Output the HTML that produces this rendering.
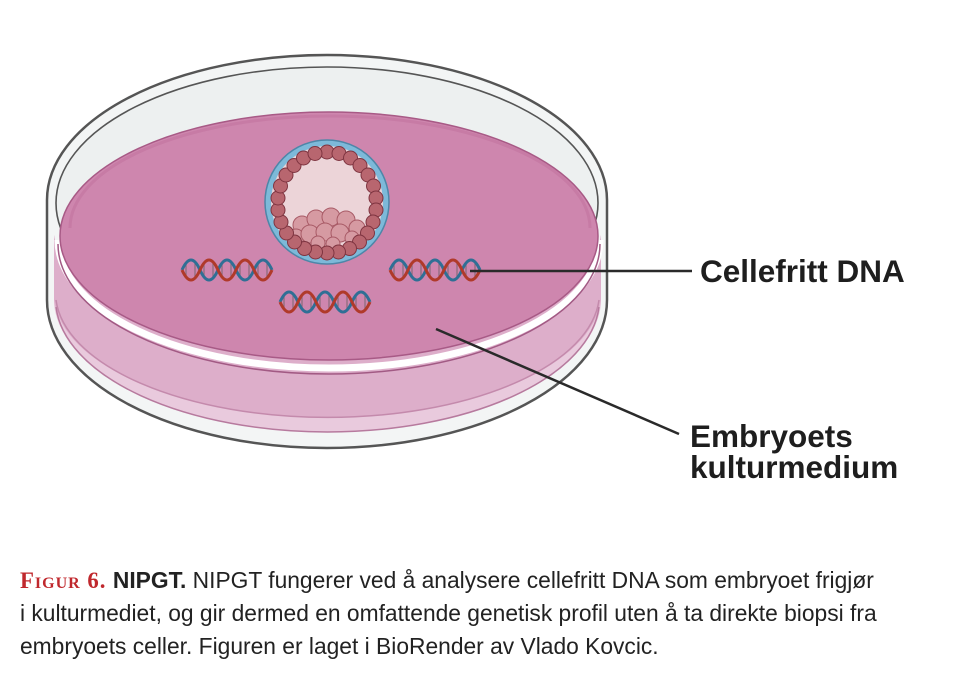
<!DOCTYPE html>
<html><head><meta charset="utf-8"><style>
html,body{margin:0;padding:0;background:#fff;width:960px;height:692px;overflow:hidden}
.cap{position:absolute;left:20px;font-family:"Liberation Sans",sans-serif;font-size:22.8px;color:#222;white-space:nowrap}
.lab{font-family:"Liberation Sans",sans-serif;font-weight:bold;fill:#1e1e1e}
</style></head><body>
<svg width="960" height="692" style="position:absolute;left:0;top:0">
<defs>
<g id="dna">
<g stroke="#8a6a7a" stroke-width="1.2">
<line x1="4" y1="-6" x2="4" y2="6"/><line x1="13" y1="-8" x2="13" y2="8"/><line x1="22" y1="-6" x2="22" y2="6"/><line x1="31" y1="-8" x2="31" y2="8"/><line x1="40" y1="-6" x2="40" y2="6"/><line x1="49" y1="-8" x2="49" y2="8"/><line x1="58" y1="-6" x2="58" y2="6"/><line x1="67" y1="-8" x2="67" y2="8"/><line x1="76" y1="-6" x2="76" y2="6"/><line x1="85" y1="-8" x2="85" y2="8"/>
</g>
<path d="M0,0 q9,-20 18,0 t18,0 t18,0 t18,0 t18,0" fill="none" stroke="#2f6f95" stroke-width="3"/>
<path d="M0,0 q9,20 18,0 t18,0 t18,0 t18,0 t18,0" fill="none" stroke="#b03a2a" stroke-width="3"/>
</g>
</defs>
<path d="M47,200 A280,145 0 0 1 607,200 L607,300 A280,148 0 0 1 47,300 Z" fill="#f3f5f5" stroke="#555" stroke-width="2.5"/>
<ellipse cx="327" cy="203" rx="271" ry="136" fill="#edf0f0" stroke="#555" stroke-width="1.6"/>
<!-- liquid body -->
<path d="M54,235 A274,125 0 0 0 601,235 L601,305 A274,135 0 0 1 54,305 Z" fill="#e9cadd"/>
<path d="M54,235 A274,125 0 0 0 601,235 L601,300 A274,125 0 0 1 54,300 Z" fill="#ddaeca"/>
<path d="M56,300 A272,125 0 0 0 599,300" fill="none" stroke="#c48aac" stroke-width="1.5"/>
<path d="M56,307 A272,133 0 0 0 599,307" fill="none" stroke="#b77a9e" stroke-width="1.5"/>
<!-- rim white band below surface -->
<path d="M58,240 A271,128 0 0 0 600,240" fill="none" stroke="#fff" stroke-width="7"/>
<path d="M58,244 A271,130 0 0 0 600,244" fill="none" stroke="#a25a84" stroke-width="1.5"/>
<!-- surface -->
<ellipse cx="329" cy="236" rx="269" ry="124" fill="#ce86ae" stroke="#a85a86" stroke-width="1.5"/>
<path d="M70,228 A260,112 0 0 1 590,228" fill="none" stroke="#bf6f9c" stroke-width="3" opacity="0.5"/>
<!-- embryo -->
<circle cx="327" cy="202" r="62" fill="#7db9d9" stroke="#4d86a8" stroke-width="1.5"/>
<circle cx="327" cy="202" r="56" fill="#ecd4d8"/>
<g fill="#d69aa2" stroke="#a85a66" stroke-width="1">
<circle cx="302" cy="225" r="9"/><circle cx="316" cy="219" r="9"/><circle cx="331" cy="217" r="9"/><circle cx="346" cy="220" r="9"/><circle cx="357" cy="228" r="8"/><circle cx="296" cy="237" r="8"/><circle cx="310" cy="234" r="9"/><circle cx="325" cy="232" r="9"/><circle cx="340" cy="233" r="9"/><circle cx="352" cy="238" r="7"/><circle cx="318" cy="243" r="7"/><circle cx="333" cy="244" r="7"/>
</g>
<g fill="#b8666f" stroke="#7e3440" stroke-width="1">
<circle cx="327" cy="152" r="7"/><circle cx="339" cy="153.5" r="7"/><circle cx="350.5" cy="158" r="7"/><circle cx="360" cy="165.5" r="7"/><circle cx="368" cy="175" r="7"/><circle cx="373.5" cy="186" r="7"/><circle cx="376" cy="198" r="7"/><circle cx="376" cy="210" r="7"/><circle cx="373" cy="222" r="7"/><circle cx="367.5" cy="233" r="7"/><circle cx="359.5" cy="242" r="7"/><circle cx="349.5" cy="248.5" r="7"/><circle cx="338.5" cy="252" r="7"/><circle cx="327" cy="253" r="7"/><circle cx="315.5" cy="252" r="7"/><circle cx="304.5" cy="248.5" r="7"/><circle cx="294.5" cy="242" r="7"/><circle cx="286.5" cy="233" r="7"/><circle cx="281" cy="222" r="7"/><circle cx="278" cy="210" r="7"/><circle cx="278" cy="198" r="7"/><circle cx="280.5" cy="186" r="7"/><circle cx="286" cy="175" r="7"/><circle cx="294" cy="165.5" r="7"/><circle cx="303.5" cy="158" r="7"/><circle cx="315" cy="153.5" r="7"/>
</g>
<use href="#dna" x="182" y="270"/>
<use href="#dna" x="390" y="270"/>
<use href="#dna" x="280" y="302"/>
<line x1="470" y1="271" x2="692" y2="271" stroke="#2a2a2a" stroke-width="2.5"/>
<line x1="436" y1="329" x2="679" y2="434" stroke="#2a2a2a" stroke-width="2.5"/>
<text class="lab" x="700" y="282" font-size="31.5">Cellefritt DNA</text>
<text class="lab" x="690" y="447" font-size="31.5">Embryoets</text>
<text class="lab" x="690" y="478" font-size="31.5">kulturmedium</text>
</svg>
<div class="cap" style="top:567px"><span style="font-family:'Liberation Serif',serif;font-weight:bold;color:#c0282d;font-variant:small-caps;letter-spacing:1px">Figur 6.</span> <b>NIPGT.</b> NIPGT fungerer ved å analysere cellefritt DNA som embryoet frigjør</div>
<div class="cap" style="top:600px">i kulturmediet, og gir dermed en omfattende genetisk profil uten å ta direkte biopsi fra</div>
<div class="cap" style="top:633px">embryoets celler. Figuren er laget i BioRender av Vlado Kovcic.</div>
</body></html>
